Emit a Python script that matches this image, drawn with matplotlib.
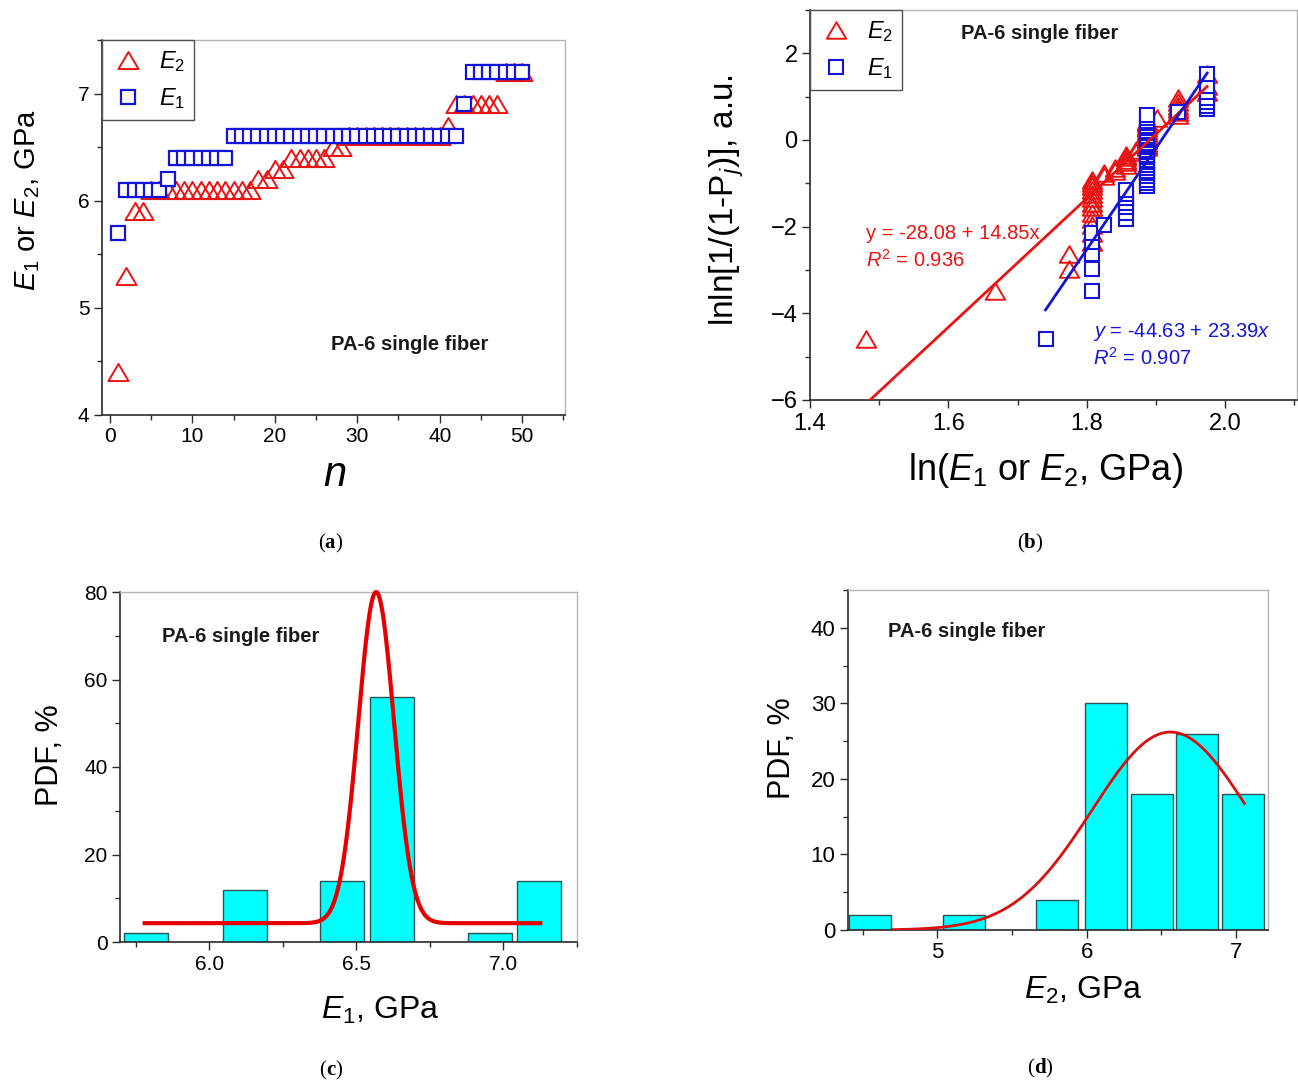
import numpy as np
import matplotlib
matplotlib.use("Agg")
import matplotlib.pyplot as plt
from matplotlib.ticker import MultipleLocator, FormatStrFormatter
from matplotlib.path import Path

plt.rcParams['font.family'] = ['Liberation Sans', 'DejaVu Sans']
plt.rcParams['mathtext.fontset'] = 'custom'
plt.rcParams['mathtext.rm'] = 'Liberation Sans'
plt.rcParams['mathtext.it'] = 'Liberation Sans:italic'
plt.rcParams['mathtext.bf'] = 'Liberation Sans:bold'

# ---------------- data ----------------
n_index = list(range(1, 51))
E1 = [5.7] + [6.1] * 5 + [6.2] + [6.4] * 7 + [6.6] * 28 + [6.9] + [7.2] * 7
E2 = ([4.4, 5.3, 5.9, 5.9] + [6.1] * 13 + [6.2] * 2 + [6.3] * 2 + [6.4] * 5
      + [6.5] * 2 + [6.6] * 12 + [6.7] + [6.9] * 6 + [7.2] * 3)

# Weibull fit parameters (from chart text)
fit_E2 = (-28.08, 14.85)
fit_E1 = (-44.63, 23.39)

# histogram (c): E1
c_centers = [5.785, 6.12, 6.45, 6.62, 6.955, 7.12]
c_heights = [2, 12, 14, 56, 2, 14]
c_width = 0.15
# gaussian fit (c): baseline, amplitude, centre, sigma, x-range
c_fit = dict(y0=4.3, A=75.7, xc=6.567, w=0.061, xmin=5.78, xmax=7.125)

# histogram (d): E2
d_centers = [4.55, 5.18, 5.80, 6.13, 6.435, 6.74, 7.045]
d_heights = [2, 2, 4, 30, 18, 26, 18]
d_width = 0.28
d_fit = dict(y0=0.0, A=26.2, xc=6.56, w=0.524, xmin=4.7, xmax=7.055)

RED = '#e81414'
BLUE = '#1414d8'
CYAN = '#00ffff'
BAR_EDGE = '#2b5252'

W, H = 1298, 1084
fig = plt.figure(figsize=(W / 100, H / 100), dpi=100)


def add_ax(left, top, right, bottom):
    return fig.add_axes([left / W, 1 - bottom / H, (right - left) / W, (bottom - top) / H])


def style(ax, labelsize):
    for s in ['top', 'right']:
        ax.spines[s].set_color('#b4b4b4')
        ax.spines[s].set_linewidth(1.0)
    for s in ['left', 'bottom']:
        ax.spines[s].set_color('#2a2a2a')
        ax.spines[s].set_linewidth(1.2)
    ax.tick_params(which='both', direction='out', top=False, right=False,
                   color='#2a2a2a', width=1.0)
    ax.tick_params(which='major', length=6, labelsize=labelsize, pad=3)
    ax.tick_params(which='minor', length=3.5)


def ftext(x, y, s, **kw):
    fig.text(x / W, 1 - y / H, s, ha='center', va='center', **kw)


tri = Path([(0, 0.85), (-1, -0.85), (1, -0.85), (0, 0.85)],
           [Path.MOVETO, Path.LINETO, Path.LINETO, Path.CLOSEPOLY])

# ---------------- (a) ----------------
axA = add_ax(102, 40, 565, 415)
axA.plot(n_index, E2, ls='none', marker=tri, ms=14.5, mfc='none', mec=RED, mew=1.4,
         label='$E_2$', zorder=3)
axA.plot(n_index, E1, ls='none', marker='s', ms=10, mfc='white', mec=BLUE, mew=1.6,
         label='$E_1$', zorder=4)
axA.set_xlim(-0.97, 55.2)
axA.set_ylim(4, 7.5)
axA.xaxis.set_major_locator(MultipleLocator(10))
axA.xaxis.set_minor_locator(MultipleLocator(5))
axA.yaxis.set_major_locator(MultipleLocator(1))
axA.yaxis.set_minor_locator(MultipleLocator(0.5))
style(axA, 15)
legA = axA.legend(loc='upper left', borderaxespad=0, fancybox=False, fontsize=17,
                  edgecolor='#505050', framealpha=1, handletextpad=0.6,
                  borderpad=0.4, labelspacing=0.5, handlelength=1.4)
legA.get_frame().set_linewidth(1.0)
axA.text(0.665, 0.187, 'PA-6 single fiber', transform=axA.transAxes, ha='center',
         va='center', fontsize=14.5, weight='bold', color='#1a1a1a')
ftext(28, 200, '$E_1$ or $E_2$, GPa', rotation=90, fontsize=21)
ftext(335, 475, '$n$', fontsize=30)

# ---------------- (b) ----------------
axB = add_ax(810, 10, 1297, 400)


def weibull_points(vals):
    v = np.sort(np.asarray(vals, dtype=float))
    N = len(v)
    j = np.arange(1, N + 1)
    P = (j - 0.5) / N
    return np.log(v), np.log(np.log(1.0 / (1.0 - P)))


xb2, yb2 = weibull_points(E2)
xb1, yb1 = weibull_points(E1)
axB.plot(xb2, yb2, ls='none', marker=tri, ms=14, mfc='none', mec=RED, mew=1.4,
         label='$E_2$', zorder=3)
axB.plot(xb1, yb1, ls='none', marker='s', ms=9.5, mfc='white', mec=BLUE, mew=1.5,
         label='$E_1$', zorder=4)
lx2 = np.array([xb2.min(), xb2.max()])
lx1 = np.array([xb1.min(), xb1.max()])
axB.plot(lx2, fit_E2[0] + fit_E2[1] * lx2, color=RED, lw=2.0, zorder=5)
axB.plot(lx1, fit_E1[0] + fit_E1[1] * lx1, color=BLUE, lw=2.0, zorder=5)
axB.set_xlim(1.4, 2.104)
axB.set_ylim(-6, 3)
axB.xaxis.set_major_locator(MultipleLocator(0.2))
axB.xaxis.set_minor_locator(MultipleLocator(0.1))
axB.xaxis.set_major_formatter(FormatStrFormatter('%.1f'))
axB.yaxis.set_major_locator(MultipleLocator(2))
axB.yaxis.set_minor_locator(MultipleLocator(1))
style(axB, 17)
legB = axB.legend(loc='upper left', borderaxespad=0, fancybox=False, fontsize=17,
                  edgecolor='#505050', framealpha=1, handletextpad=0.6,
                  borderpad=0.4, labelspacing=0.5, handlelength=1.4)
legB.get_frame().set_linewidth(1.0)
axB.text(0.472, 0.941, 'PA-6 single fiber', transform=axB.transAxes, ha='center',
         va='center', fontsize=14.5, weight='bold', color='#1a1a1a')
axB.text(1.481, -2.15, 'y = -28.08 + 14.85x', color=RED, fontsize=14.5,
         ha='left', va='center')
axB.text(1.481, -2.77, '$R^2$ = 0.936', color=RED, fontsize=14.5, ha='left', va='center')
axB.text(1.809, -4.43, '$y$ = -44.63 + 23.39$x$', color=BLUE, fontsize=14.5,
         ha='left', va='center')
axB.text(1.809, -5.03, '$R^2$ = 0.907', color=BLUE, fontsize=14.5, ha='left', va='center')
ftext(727, 200, 'lnln[1/(1-P$_j$)], a.u.', rotation=90, fontsize=24)
ftext(1045, 470, 'ln($E_1$ or $E_2$, GPa)', fontsize=26)


def gauss(fit):
    x = np.linspace(fit['xmin'], fit['xmax'], 400)
    return x, fit['y0'] + fit['A'] * np.exp(-(x - fit['xc']) ** 2 / (2 * fit['w'] ** 2))


# ---------------- (c) ----------------
axC = add_ax(120, 592, 577, 942)
axC.bar(c_centers, c_heights, width=c_width, color=CYAN, edgecolor=BAR_EDGE, lw=1.0,
        zorder=2)
gx, gy = gauss(c_fit)
axC.plot(gx, gy, color='#e60000', lw=3.0, zorder=3, clip_on=False)
axC.set_xlim(5.696, 7.25)
axC.set_ylim(0, 80)
axC.xaxis.set_major_locator(MultipleLocator(0.5))
axC.xaxis.set_minor_locator(MultipleLocator(0.25))
axC.xaxis.set_major_formatter(FormatStrFormatter('%.1f'))
axC.yaxis.set_major_locator(MultipleLocator(20))
axC.yaxis.set_minor_locator(MultipleLocator(10))
style(axC, 15)
axC.text(0.263, 0.872, 'PA-6 single fiber', transform=axC.transAxes, ha='center',
         va='center', fontsize=14.5, weight='bold', color='#1a1a1a')
ftext(50, 755, 'PDF, %', rotation=90, fontsize=22)
ftext(380, 1010, '$E_1$, GPa', fontsize=23)

# ---------------- (d) ----------------
axD = add_ax(848, 590, 1268, 930)
axD.bar(d_centers, d_heights, width=d_width, color=CYAN, edgecolor=BAR_EDGE, lw=1.0,
        zorder=2)
gx, gy = gauss(d_fit)
axD.plot(gx, gy, color='#d81010', lw=2.0, zorder=3)
axD.set_xlim(4.402, 7.213)
axD.set_ylim(0, 45)
axD.xaxis.set_major_locator(MultipleLocator(1))
axD.xaxis.set_minor_locator(MultipleLocator(0.5))
axD.yaxis.set_major_locator(MultipleLocator(10))
axD.yaxis.set_minor_locator(MultipleLocator(5))
style(axD, 16)
axD.text(0.283, 0.877, 'PA-6 single fiber', transform=axD.transAxes, ha='center',
         va='center', fontsize=14.5, weight='bold', color='#1a1a1a')
ftext(782, 748, 'PDF, %', rotation=90, fontsize=22)
ftext(1083, 990, '$E_2$, GPa', fontsize=23)

# ---------------- captions ----------------
for (cx, cy, letter) in [(330, 543, 'a'), (1030, 543, 'b'), (331, 1070, 'c'), (1040, 1068, 'd')]:
    t = fig.text(cx / W, 1 - cy / H, letter, ha='center', va='center',
                 family='Liberation Serif', weight='bold', fontsize=15)
    kw = dict(xycoords=t, va='bottom', family='Liberation Serif', fontsize=15,
              annotation_clip=False)
    axA.annotate('(', xy=(0, 0), ha='right', **kw)
    axA.annotate(')', xy=(1, 0), ha='left', **kw)

fig.savefig('out.png', dpi=100)
